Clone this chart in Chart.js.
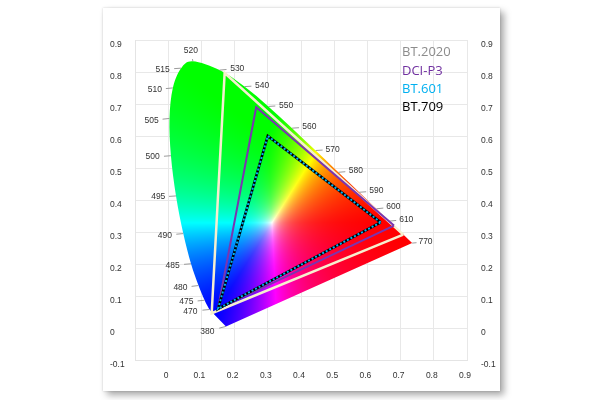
<!DOCTYPE html>
<html><head><meta charset="utf-8">
<script src="https://cdn.jsdelivr.net/npm/chart.js@4/dist/chart.umd.min.js"></script>
<style>
html,body{margin:0;padding:0;background:#fff;width:600px;height:400px;overflow:hidden}
#card{position:absolute;left:103px;top:8px;width:397px;height:383px;background:#fff;
 box-shadow:4px 4px 7px rgba(0,0,0,0.35),0 0 2px rgba(0,0,0,0.18);}
#wrap{position:absolute;left:0;top:0;width:600px;height:400px}
</style></head>
<body>
<div id="card"></div>
<div id="wrap"><canvas id="c" width="600" height="400"></canvas></div>
<script>
// Spectral locus (CIE 1931 xy) at labelled wavelengths
const wavelengths = [380,470,475,480,485,490,495,500,505,510,515,520,530,540,550,560,570,580,590,600,610,770];
const locusX = [0.1741,0.1241,0.1096,0.0913,0.0687,0.0454,0.0235,0.0082,0.0039,0.0139,0.0389,0.0743,0.1547,0.2296,0.3016,0.3731,0.4441,0.5125,0.5752,0.6270,0.6658,0.7347];
const locusY = [0.0050,0.0578,0.0868,0.1327,0.2007,0.2950,0.4127,0.5384,0.6548,0.7502,0.8120,0.8338,0.8059,0.7543,0.6923,0.6245,0.5547,0.4866,0.4242,0.3725,0.3340,0.2653];
// Label anchor positions (data coordinates)
const labelX = [0.118,0.067,0.055,0.037,0.013,-0.010,-0.030,-0.047,-0.050,-0.040,-0.017,0.068,0.208,0.283,0.355,0.425,0.495,0.565,0.627,0.678,0.717,0.775];
const labelY = [-0.010,0.052,0.081,0.126,0.196,0.290,0.409,0.534,0.649,0.745,0.808,0.868,0.811,0.758,0.696,0.628,0.558,0.491,0.428,0.378,0.339,0.269];

// Gamut triangles (R, G, B)
const bt2020X = [0.708,0.170,0.131];
const bt2020Y = [0.292,0.797,0.046];
const p3X = [0.680,0.265,0.150];
const p3Y = [0.320,0.690,0.060];
const bt709X = [0.640,0.300,0.150];
const bt709Y = [0.330,0.600,0.060];
const bt601X = [0.640,0.300,0.150];
const bt601Y = [0.330,0.600,0.060];

const legendNames = ['BT.2020','DCI-P3','BT.601','BT.709'];
const legendColors = ['#8c8c8c','#7030a0','#00b0f0','#000000'];

const xTicksMin = -0.1, xTicksMax = 0.9, yTicksMin = -0.1, yTicksMax = 0.9, tickStep = 0.1;

function tri(xs, ys){ const d = xs.map((v,i)=>({x:v,y:ys[i]})); d.push({x:xs[0],y:ys[0]}); return d; }

function xyToRGB(x, y){
  if (y <= 0.0005) y = 0.0005;
  const X = x / y, Y = 1, Z = (1 - x - y) / y;
  let r =  3.2406*X - 1.5372*Y - 0.4986*Z;
  let g = -0.9689*X + 1.8758*Y + 0.0415*Z;
  let b =  0.0557*X - 0.2040*Y + 1.0570*Z;
  r = Math.max(r,0); g = Math.max(g,0); b = Math.max(b,0);
  const m = Math.max(r,g,b) || 1;
  r/=m; g/=m; b/=m;
  const mn = Math.min(r,g,b), k = 0.45;
  const den = 1 - k*mn;
  if (den > 1e-6) { r=(r-k*mn)/den; g=(g-k*mn)/den; b=(b-k*mn)/den; } else { r=g=b=1; }
  const p = 1.15;
  return [255*Math.pow(r,p), 255*Math.pow(g,p), 255*Math.pow(b,p)];
}

function locusPath(ctx, x, y){
  const P = locusX.map((lx,i)=>[x.getPixelForValue(lx), y.getPixelForValue(locusY[i])]);
  const n = P.length;
  ctx.beginPath();
  ctx.moveTo(P[0][0],P[0][1]);
  ctx.lineTo(P[1][0],P[1][1]);
  // smooth curve from 470 to 610 (Catmull-Rom)
  for (let i=1;i<n-2;i++){
    const p0 = P[Math.max(i-1,1)], p1 = P[i], p2 = P[i+1], p3 = P[Math.min(i+2,n-2)];
    const t = 1/6;
    ctx.bezierCurveTo(p1[0]+(p2[0]-p0[0])*t, p1[1]+(p2[1]-p0[1])*t,
                      p2[0]-(p3[0]-p1[0])*t, p2[1]-(p3[1]-p1[1])*t,
                      p2[0], p2[1]);
  }
  ctx.lineTo(P[n-1][0],P[n-1][1]);
  ctx.closePath();
}

const colorFill = {
  id:'colorFill',
  beforeDatasetsDraw(chart){
    const {ctx, chartArea:a, scales:{x, y}} = chart;
    const dpr = chart.currentDevicePixelRatio || 1;
    const W = a.right - a.left, H = a.bottom - a.top;
    const w = Math.round(W*dpr), h = Math.round(H*dpr);
    const off = document.createElement('canvas'); off.width = w; off.height = h;
    const octx = off.getContext('2d');
    const img = octx.createImageData(w, h);
    for (let j=0;j<h;j++){
      const cy = y.getValueForPixel(a.top + (j+0.5)/dpr);
      for (let i=0;i<w;i++){
        const cx = x.getValueForPixel(a.left + (i+0.5)/dpr);
        const c = xyToRGB(cx, cy);
        const k = (j*w+i)*4;
        img.data[k]=c[0]; img.data[k+1]=c[1]; img.data[k+2]=c[2]; img.data[k+3]=255;
      }
    }
    octx.putImageData(img,0,0);
    ctx.save();
    locusPath(ctx, x, y);
    ctx.clip();
    ctx.drawImage(off, a.left, a.top, W, H);
    ctx.restore();

    // wavelength ticks and labels
    ctx.save();
    ctx.font = '8.5px "Liberation Sans", Arial, sans-serif';
    ctx.fillStyle = '#333';
    ctx.strokeStyle = '#9a9a9a';
    ctx.lineWidth = 1;
    ctx.textAlign = 'center';
    ctx.textBaseline = 'middle';
    wavelengths.forEach((wl,i)=>{
      const px = x.getPixelForValue(locusX[i]), py = y.getPixelForValue(locusY[i]);
      const tx = x.getPixelForValue(labelX[i]), ty = y.getPixelForValue(labelY[i]);
      const dx = tx-px, dy = ty-py, L = Math.hypot(dx,dy) || 1;
      const len = Math.min(7, Math.max(0, L-9));
      ctx.beginPath();
      ctx.moveTo(px,py);
      ctx.lineTo(px+dx/L*len, py+dy/L*len);
      ctx.stroke();
      ctx.fillText(String(wl), tx, ty);
    });
    ctx.restore();
  }
};

const legendText = {
  id:'legendText',
  afterDatasetsDraw(chart){
    const {ctx, chartArea:a} = chart;
    ctx.save();
    ctx.font = '13px "Open Sans", sans-serif';
    ctx.textAlign = 'left';
    ctx.textBaseline = 'middle';
    legendNames.forEach((n,i)=>{
      ctx.fillStyle = legendColors[i];
      ctx.fillText(n, a.right - 65, a.top + 12.5 + i*18.4);
    });
    ctx.restore();
  }
};

const fmt = v => { const r = Math.round(v*10)/10; return String(r); };
const tickFont = {family:'"Liberation Sans", Arial, sans-serif', size:8.5};

new Chart(document.getElementById('c'), {
  type:'scatter',
  data:{datasets:[
    {label:'BT.601', data:tri(bt601X,bt601Y), showLine:true, borderColor:'#00b0f0', borderWidth:2, borderDash:[2,2], pointRadius:0, order:0},
    {label:'BT.709', data:tri(bt709X,bt709Y), showLine:true, borderColor:'#000000', borderWidth:2.6, pointRadius:0, order:1},
    {label:'DCI-P3', data:tri(p3X,p3Y), showLine:true, borderColor:'#7a35b0', borderWidth:2, pointRadius:0, order:2},
    {label:'BT.2020', data:tri(bt2020X,bt2020Y), showLine:true, borderColor:'#f6efcf', borderWidth:2.5, pointRadius:0, order:3}
  ]},
  options:{
    responsive:false, animation:false, devicePixelRatio:1,
    layout:{padding:{left:110, top:40, right:93, bottom:6}},
    plugins:{legend:{display:false}, tooltip:{enabled:false}},
    scales:{
      x:{type:'linear', position:'bottom', min:xTicksMin, max:xTicksMax,
         afterFit: s => { s.height = 34; },
         grid:{color:'#e8e8e8', drawTicks:false}, border:{color:'#e4e4e4'},
         ticks:{stepSize:tickStep, padding:11, labelOffset:-2, color:'#333', font:tickFont,
                callback: v => v < -0.05 ? '' : fmt(v)}},
      y:{type:'linear', position:'left', min:yTicksMin, max:yTicksMax,
         afterFit: s => { s.width = 25; },
         grid:{color:'#e8e8e8', drawTicks:false}, border:{color:'#e4e4e4'},
         ticks:{stepSize:tickStep, crossAlign:'far', labelOffset:4.5, color:'#333', font:tickFont,
                callback: v => fmt(v)}},
      y2:{type:'linear', position:'right', min:yTicksMin, max:yTicksMax,
         afterFit: s => { s.width = 40; },
         grid:{display:false, drawTicks:false}, border:{display:false},
         ticks:{stepSize:tickStep, padding:14, labelOffset:4.5, color:'#333', font:tickFont,
                callback: v => fmt(v)}}
    }
  },
  plugins:[colorFill, legendText]
});
</script>
</body></html>
